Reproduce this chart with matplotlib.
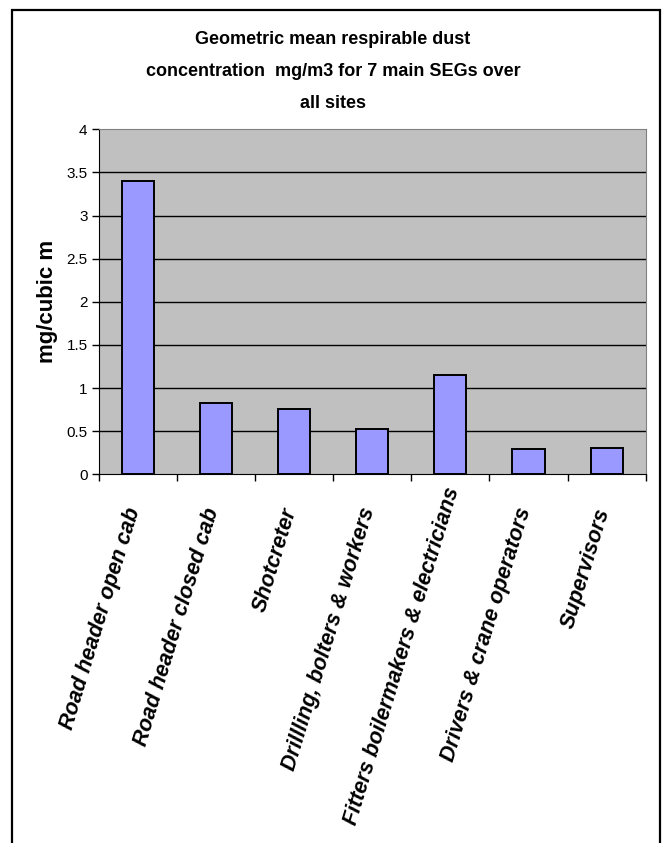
import numpy as np
import matplotlib.pyplot as plt
from matplotlib.patches import Rectangle
from matplotlib.transforms import offset_copy

plt.rcParams['font.family'] = ['Liberation Sans', 'DejaVu Sans']

categories = ['Road header open cab', 'Road header closed cab', 'Shotcreter',
              'Drillling, bolters & workers', 'Fitters boilermakers & electricians',
              'Drivers & crane operators', 'Supervisors']
values = [3.40, 0.83, 0.76, 0.53, 1.15, 0.29, 0.31]
yticks = [0, 0.5, 1, 1.5, 2, 2.5, 3, 3.5, 4]
title_lines = ['Geometric mean respirable dust',
               'concentration  mg/m3 for 7 main SEGs over',
               'all sites']

W, H = 666, 843
fig = plt.figure(figsize=(W / 100, H / 100), dpi=100)

# outer chart frame (bottom runs off the page)
fig.patches.append(Rectangle((12 / W, -0.05), (660 - 12) / W, 1.05 - 10 / H,
                             transform=fig.transFigure, fill=False,
                             edgecolor='black', linewidth=1.6))

ax = fig.add_axes([98.7 / W, 1 - 474.4 / H, (645.7 - 98.7) / W, (474.4 - 129.3) / H])
ax.set_facecolor('#c0c0c0')

x = np.arange(len(categories))
ax.bar(x, values, width=0.41, color='#9999ff', edgecolor='black', linewidth=1.4, zorder=3)

ax.set_xlim(-0.5, len(categories) - 0.5)
ax.set_ylim(0, 4)
ax.set_yticks(yticks)
ax.set_yticklabels(['%g' % v for v in yticks], fontsize=11)
for v in yticks[1:-1]:
    ax.axhline(v, color='black', linewidth=1.0, zorder=1)

# category boundary ticks
ax.set_xticks(np.arange(-0.5, len(categories) + 0.5, 1.0))
ax.set_xticklabels([])
ax.tick_params(axis='x', direction='out', length=5, width=1)
ax.tick_params(axis='y', direction='out', length=5, width=1, pad=3)

for s in ['top', 'right']:
    ax.spines[s].set_color('#808080')
for s in ['left', 'bottom']:
    ax.spines[s].set_color('black')

# rotated category labels, end of text just under the category centre;
# the longest one is pushed up so it still fits on the page
longest = max(range(len(categories)), key=lambda i: len(categories[i]))
for xi, lab in zip(x, categories):
    dx, dy = (3, -13) if xi == longest else (-3, -34)
    trans = offset_copy(ax.get_xaxis_transform(), fig=fig, x=dx, y=dy, units='dots')
    ax.text(xi, 0, lab, transform=trans, rotation=73, rotation_mode='anchor',
            ha='right', va='center', fontsize=15.5, fontweight='bold', style='italic')

ax.set_ylabel('mg/cubic m', fontsize=16, fontweight='bold', labelpad=6)

for i, line in enumerate(title_lines):
    fig.text(0.5, 1 - (40 + 31.5 * i) / H, line, ha='center', va='center',
             fontsize=13, fontweight='bold')

fig.savefig('out.png', dpi=100)
